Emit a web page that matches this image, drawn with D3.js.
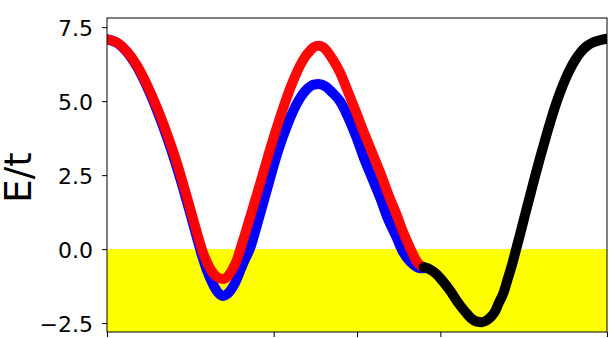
<!DOCTYPE html>
<html>
<head>
<meta charset="utf-8">
<script src="https://cdn.jsdelivr.net/npm/d3@7"></script>
<style>
  html, body { margin: 0; padding: 0; background: #ffffff; }
  svg { display: block; }
</style>
</head>
<body>
<svg id="chart" width="616" height="338"></svg>
<script>
// ---- data ----
const kRB = [0.00,0.12,0.24,0.36,0.48,0.60,0.72,0.84,0.96,1.08,1.14,1.20,1.26,1.32,1.39,1.45,1.51,1.56,1.60,1.66,1.72,1.78,1.84,1.90,1.96,2.02,2.08,2.14,2.20,2.26,2.32,2.38,2.44,2.48,2.54,2.62,2.70,2.80,2.89,2.99,3.08,3.18,3.28,3.37,3.47,3.55,3.64,3.70,3.74,3.80];
const eRed = [7.09,6.98,6.68,6.20,5.55,4.78,3.90,2.90,1.75,0.55,-0.02,-0.45,-0.76,-0.94,-1.01,-0.92,-0.66,-0.36,0.00,0.54,1.10,1.67,2.24,2.82,3.40,3.95,4.48,4.98,5.45,5.86,6.22,6.51,6.71,6.82,6.87,6.76,6.45,5.95,5.33,4.62,3.96,3.27,2.58,1.89,1.20,0.60,0.02,-0.33,-0.50,-0.61];
const eBlue = [7.09,6.97,6.66,6.16,5.49,4.69,3.78,2.75,1.60,0.38,-0.22,-0.72,-1.12,-1.42,-1.58,-1.50,-1.28,-1.00,-0.72,-0.32,0.05,0.62,1.22,1.82,2.42,3.02,3.55,4.02,4.45,4.82,5.12,5.35,5.50,5.56,5.58,5.50,5.30,4.98,4.48,3.80,3.10,2.41,1.72,1.03,0.43,-0.08,-0.43,-0.57,-0.63,-0.65];
const kBlack = [3.80,3.88,3.96,4.04,4.13,4.21,4.30,4.37,4.43,4.50,4.56,4.61,4.66,4.70,4.76,4.81,4.86,4.91,4.96,5.02,5.08,5.14,5.20,5.26,5.32,5.38,5.44,5.50,5.56,5.62,5.68,5.75,5.82,5.92,6.00];
const eBlack = [-0.61,-0.69,-0.86,-1.12,-1.45,-1.80,-2.12,-2.34,-2.44,-2.47,-2.40,-2.28,-2.09,-1.83,-1.46,-0.99,-0.53,0.00,0.54,1.20,1.85,2.50,3.12,3.72,4.30,4.84,5.32,5.74,6.10,6.40,6.64,6.84,6.97,7.06,7.11];
const yTicks = [-2.5, 0.0, 2.5, 5.0, 7.5];
const xTicks = [0, 2, 3, 4, 6];
const xDomain = [0, 6];
const yDomain = [-2.80, 7.81];
const fillLevel = 0.0;
const yLabel = "E/t";

// ---- layout ----
const W = 616, H = 338;
const L = 107, R = 607, T = 18, B = 332;

const svg = d3.select("#chart");
const x = d3.scaleLinear().domain(xDomain).range([L, R]);
const y = d3.scaleLinear().domain(yDomain).range([B, T]);

svg.append("defs").append("clipPath").attr("id", "plotclip")
  .append("rect").attr("x", L).attr("y", T).attr("width", R - L).attr("height", B - T);

const plot = svg.append("g").attr("clip-path", "url(#plotclip)");

// yellow band below fillLevel
plot.append("rect")
  .attr("x", x(xDomain[0])).attr("width", x(xDomain[1]) - x(xDomain[0]))
  .attr("y", y(fillLevel)).attr("height", y(yDomain[0]) - y(fillLevel))
  .attr("fill", "#ffff00");

const line = d3.line().x(d => x(d[0])).y(d => y(d[1])).curve(d3.curveMonotoneX);

const series = [
  { k: kRB, e: eBlue, color: "#0000ff", op: 1 },
  { k: kRB, e: eRed, color: "#ff0000", op: 0.97 },
  { k: kBlack, e: eBlack, color: "#000000", op: 1 }
];
series.forEach(s => {
  plot.append("path")
    .datum(s.k.map((k, i) => [k, s.e[i]]))
    .attr("d", line)
    .attr("fill", "none")
    .attr("stroke", s.color)
    .attr("stroke-opacity", s.op)
    .attr("stroke-width", 10)
    .attr("stroke-linecap", "round")
    .attr("stroke-linejoin", "round");
});

// axes
const yAxis = d3.axisLeft(y).tickValues(yTicks).tickFormat(d3.format(".1f")).tickSize(5).tickPadding(9);
const gy = svg.append("g").attr("transform", `translate(${L},0)`).call(yAxis);
gy.select(".domain").remove();
gy.selectAll(".tick line").attr("stroke", "#000").attr("stroke-width", 1);
gy.selectAll(".tick text")
  .attr("font-family", "DejaVu Sans, sans-serif")
  .attr("font-size", "22px")
  .attr("fill", "#000")
  .attr("dy", "0.40em");

const xAxis = d3.axisBottom(x).tickValues(xTicks).tickFormat("").tickSize(5);
const gx = svg.append("g").attr("transform", `translate(0,${B})`).call(xAxis);
gx.select(".domain").remove();
gx.selectAll(".tick line").attr("stroke", "#000").attr("stroke-width", 1);

// frame
svg.append("rect")
  .attr("x", L).attr("y", T).attr("width", R - L).attr("height", B - T)
  .attr("fill", "none").attr("stroke", "#000").attr("stroke-width", 1);

// y label
svg.append("text")
  .attr("transform", `translate(31,${(T + B) / 2 + 2.5}) rotate(-90)`)
  .attr("text-anchor", "middle")
  .attr("font-family", "DejaVu Sans, sans-serif")
  .attr("font-size", "37px")
  .attr("fill", "#000")
  .text(yLabel);
</script>
</body>
</html>
